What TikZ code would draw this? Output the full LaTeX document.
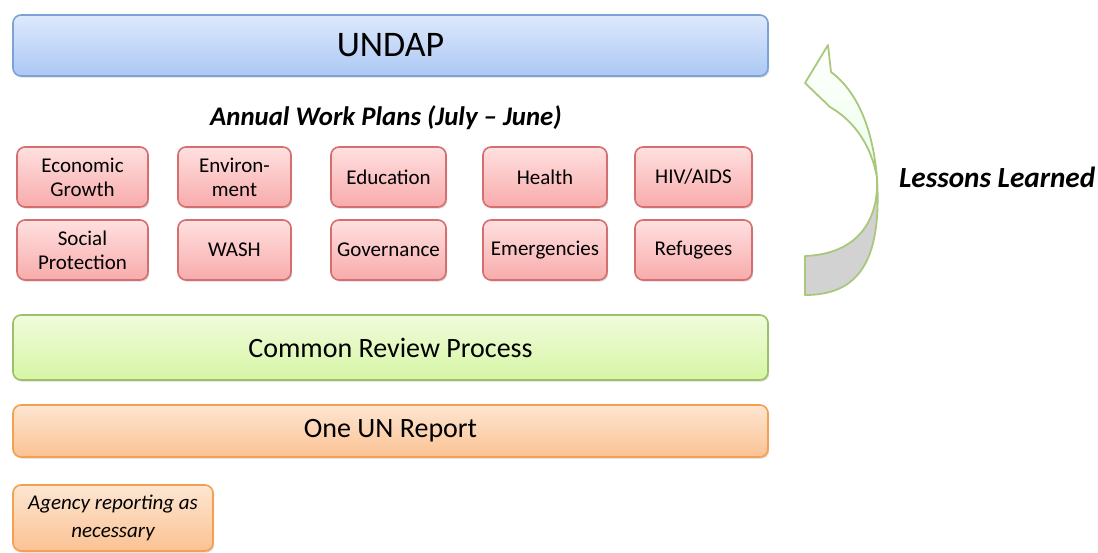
\documentclass[tikz,border=0pt]{standalone}
\usepackage{fontspec}
\setmainfont{Carlito}
\usetikzlibrary{shadows}
\definecolor{undapline}{HTML}{7DA2D8}
\definecolor{undaptop}{HTML}{DEE9FC}
\definecolor{undapbot}{HTML}{ABC8F4}
\definecolor{topicline}{HTML}{D56F6F}
\definecolor{topictop}{HTML}{FFE0E0}
\definecolor{topicbot}{HTML}{F8ABAB}
\definecolor{reviewline}{HTML}{9DC06A}
\definecolor{reviewtop}{HTML}{F0FBDC}
\definecolor{reviewbot}{HTML}{D6F6A4}
\definecolor{reportline}{HTML}{F4A050}
\definecolor{reporttop}{HTML}{FDE6D2}
\definecolor{reportbot}{HTML}{FBC293}
\definecolor{arrowline}{HTML}{A9C87C}
\begin{document}
\begin{tikzpicture}[x=0.5pt,y=-0.5pt,
  box/.style={rounded corners=4pt,line width=0.8pt,inner sep=0pt,align=center,
    drop shadow={opacity=0.3,shadow xshift=0.6pt,shadow yshift=-0.8pt}},
  undapbox/.style={box,draw=undapline,top color=undaptop,bottom color=undapbot,
    minimum width=377.5pt,minimum height=30.5pt,font=\fontsize{18}{20}\selectfont},
  topic/.style={box,draw=topicline,top color=topictop,bottom color=topicbot,
    minimum height=30pt,font=\fontsize{10.5}{12}\selectfont},
  review/.style={box,draw=reviewline,top color=reviewtop,bottom color=reviewbot,
    minimum width=377.5pt,minimum height=32.5pt,font=\fontsize{14}{16}\selectfont},
  report/.style={box,draw=reportline,top color=reporttop,bottom color=reportbot,
    minimum width=377.5pt,minimum height=26pt,font=\fontsize{14}{16}\selectfont}]
\useasboundingbox (0,0) rectangle (1098,552);
\node[undapbox] (undap) at (390.5,45.5) {UNDAP};
\node[font=\fontsize{13.4}{15}\selectfont\bfseries\itshape] (awp) at (386,118) {Annual Work Plans (July -- June)};
% topic boxes, first row
\node[topic,minimum width=65.5pt] (econ) at (82.5,177) {Economic\\Growth};
\node[topic,minimum width=56.5pt] (env) at (234.5,177) {Environ-\\ment};
\node[topic,minimum width=57.5pt] (edu) at (388.5,177) {Education};
\node[topic,minimum width=62pt] (health) at (545,177) {Health};
\node[topic,minimum width=58.5pt] (hiv) at (693.5,177) {HIV/AIDS};
% topic boxes, second row
\node[topic,minimum width=65.5pt] (social) at (82.5,250) {Social\\Protection};
\node[topic,minimum width=56.5pt] (wash) at (234.5,250) {WASH};
\node[topic,minimum width=57.5pt] (gov) at (388.5,250) {Governance};
\node[topic,minimum width=62pt] (emerg) at (545,250) {Emergencies};
\node[topic,minimum width=58.5pt] (refug) at (693.5,250) {Refugees};
\node[review] (crp) at (390.5,347.5) {Common Review Process};
\node[report] (oneun) at (390.5,431) {One UN Report};
\node[report,minimum width=100pt,minimum height=33pt,font=\fontsize{10.5}{14}\selectfont\itshape] (agency) at (113,518) {Agency reporting as\\necessary};
% curved arrow
\draw[arrowline,line width=0.9pt,line join=round,fill=gray!35]
  (877,178) .. controls (879,220) and (858,254) .. (805,256) -- (805,295)
  .. controls (858,295) and (882,262) .. (877,178) -- cycle;
\draw[arrowline,line width=0.9pt,line join=round,top color=white,bottom color=green!8!white]
  (828,45) -- (805,83) -- (830,107) .. controls (856,122) and (872,148) .. (877,178)
  .. controls (873,130) and (858,92) .. (831,72) -- cycle;
\node[font=\fontsize{14.6}{17}\selectfont\bfseries\itshape,anchor=west] (lessons) at (892,177) {Lessons Learned};
\end{tikzpicture}
\end{document}
